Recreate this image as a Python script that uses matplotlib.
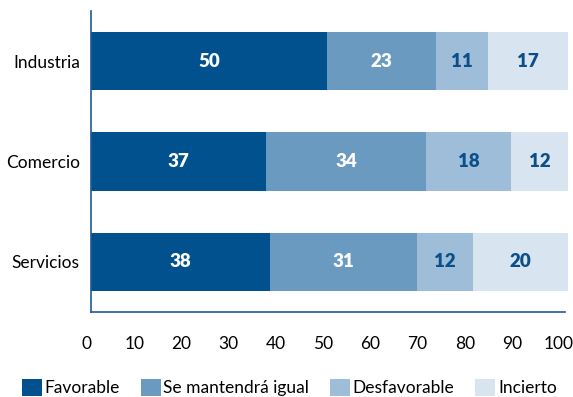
import matplotlib
matplotlib.use("Agg")
import matplotlib.pyplot as plt
from matplotlib.patches import Patch
from matplotlib.transforms import ScaledTranslation

plt.rcParams['font.family'] = ['Lato', 'DejaVu Sans']

categories = ["Industria", "Comercio", "Servicios"]
series_names = ["Favorable", "Se mantendrá igual", "Desfavorable", "Incierto"]
favorable = [50, 37, 38]
igual = [23, 34, 31]
desfavorable = [11, 18, 12]
incierto = [17, 12, 20]
xticks = [0, 10, 20, 30, 40, 50, 60, 70, 80, 90, 100]

colors = ["#00518E", "#6A9AC0", "#9DBDD8", "#D8E4EF"]
text_colors = ["white", "white", "#0B4F8A", "#0B4F8A"]

fig = plt.figure(figsize=(5.73, 3.97), dpi=100)
ax = fig.add_axes([91/573, 1-312/397, (565-91)/573, 301/397])

series = [favorable, igual, desfavorable, incierto]
ypos = list(range(len(categories)))
left = [0]*len(categories)
for vals, c, tc, name in zip(series, colors, text_colors, series_names):
    ax.barh(ypos, vals, left=left, height=0.58, color=c, label=name, clip_on=False)
    for y, v, l in zip(ypos, vals, left):
        ax.text(l + v/2, y, str(v), ha='center', va='center', color=tc,
                fontsize=13.5, fontweight='heavy')
    left = [a + b for a, b in zip(left, vals)]

ax.set_ylim(2.5, -0.5)
ax.set_xlim(0, 100.4)
ax.set_yticks(ypos)
ax.set_yticklabels(categories, fontsize=12.5)
ax.set_xticks(xticks)
ax.set_xticklabels([str(t) for t in xticks], fontsize=12.5)
ax.tick_params(length=0)
ax.tick_params(axis='x', pad=17)
ax.tick_params(axis='y', pad=8)
off = ScaledTranslation(-4/100, 0, fig.dpi_scale_trans)
for lab in ax.get_xticklabels():
    lab.set_transform(lab.get_transform() + off)
for s in ['top', 'right']:
    ax.spines[s].set_visible(False)
for s in ['left', 'bottom']:
    ax.spines[s].set_color('#1F5A96')
    ax.spines[s].set_linewidth(1.2)

handles = [Patch(facecolor=c, label=n) for c, n in zip(colors, series_names)]
fig.legend(handles=handles, loc='lower center', bbox_to_anchor=(0.505, -0.015), ncol=4,
           frameon=False, fontsize=12.5, handlelength=1.15, handleheight=1.15,
           handletextpad=0.15, columnspacing=1.2, borderaxespad=0)

fig.savefig("out.png", dpi=100)
